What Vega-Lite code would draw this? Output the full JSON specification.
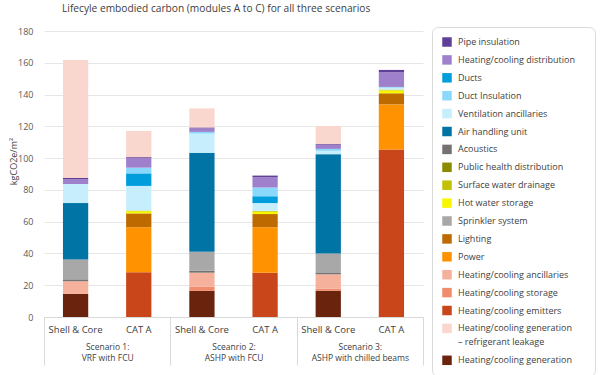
{
  "$schema": "https://vega.github.io/schema/vega-lite/v6.json",
  "width": 379,
  "height": 286,
  "autosize": "none",
  "padding": {"left": 44, "top": 31, "right": 177, "bottom": 58},
  "background": "white",
  "title": {"text": "Lifecyle embodied carbon (modules A to C) for all three scenarios", "anchor": "start", "frame": "group", "dx": 18, "fontSize": 10.2, "font": "Open Sans", "fontWeight": "normal", "color": "#404040", "offset": 12},
  "config": {"font": "Open Sans", "view": {"stroke": null}},
  "data": {"values": [
    {"scenario": "Scenario 1: VRF with FCU", "phase": "Shell & Core", "component": "Heating/cooling generation", "value": 14.5},
    {"scenario": "Scenario 1: VRF with FCU", "phase": "Shell & Core", "component": "Heating/cooling ancillaries", "value": 8},
    {"scenario": "Scenario 1: VRF with FCU", "phase": "Shell & Core", "component": "Acoustics", "value": 1.2},
    {"scenario": "Scenario 1: VRF with FCU", "phase": "Shell & Core", "component": "Sprinkler system", "value": 12.5},
    {"scenario": "Scenario 1: VRF with FCU", "phase": "Shell & Core", "component": "Air handling unit", "value": 35.5},
    {"scenario": "Scenario 1: VRF with FCU", "phase": "Shell & Core", "component": "Ventilation ancillaries", "value": 12},
    {"scenario": "Scenario 1: VRF with FCU", "phase": "Shell & Core", "component": "Heating/cooling distribution", "value": 3},
    {"scenario": "Scenario 1: VRF with FCU", "phase": "Shell & Core", "component": "Pipe insulation", "value": 0.8},
    {"scenario": "Scenario 1: VRF with FCU", "phase": "Shell & Core", "component": "Heating/cooling generation – refrigerant leakage", "value": 74.2},
    {"scenario": "Scenario 1: VRF with FCU", "phase": "CAT A", "component": "Heating/cooling emitters", "value": 28.1},
    {"scenario": "Scenario 1: VRF with FCU", "phase": "CAT A", "component": "Power", "value": 28.4},
    {"scenario": "Scenario 1: VRF with FCU", "phase": "CAT A", "component": "Lighting", "value": 8.7},
    {"scenario": "Scenario 1: VRF with FCU", "phase": "CAT A", "component": "Hot water storage", "value": 1.4},
    {"scenario": "Scenario 1: VRF with FCU", "phase": "CAT A", "component": "Surface water drainage", "value": 0.4},
    {"scenario": "Scenario 1: VRF with FCU", "phase": "CAT A", "component": "Ventilation ancillaries", "value": 15.5},
    {"scenario": "Scenario 1: VRF with FCU", "phase": "CAT A", "component": "Ducts", "value": 7.9},
    {"scenario": "Scenario 1: VRF with FCU", "phase": "CAT A", "component": "Duct Insulation", "value": 3.6},
    {"scenario": "Scenario 1: VRF with FCU", "phase": "CAT A", "component": "Heating/cooling distribution", "value": 6},
    {"scenario": "Scenario 1: VRF with FCU", "phase": "CAT A", "component": "Pipe insulation", "value": 0.6},
    {"scenario": "Scenario 1: VRF with FCU", "phase": "CAT A", "component": "Heating/cooling generation – refrigerant leakage", "value": 16.5},
    {"scenario": "Sceanrio 2: ASHP with FCU", "phase": "Shell & Core", "component": "Heating/cooling generation", "value": 16.5},
    {"scenario": "Sceanrio 2: ASHP with FCU", "phase": "Shell & Core", "component": "Heating/cooling storage", "value": 2.5},
    {"scenario": "Sceanrio 2: ASHP with FCU", "phase": "Shell & Core", "component": "Heating/cooling ancillaries", "value": 8.9},
    {"scenario": "Sceanrio 2: ASHP with FCU", "phase": "Shell & Core", "component": "Acoustics", "value": 1.2},
    {"scenario": "Sceanrio 2: ASHP with FCU", "phase": "Shell & Core", "component": "Sprinkler system", "value": 11.9},
    {"scenario": "Sceanrio 2: ASHP with FCU", "phase": "Shell & Core", "component": "Air handling unit", "value": 62.3},
    {"scenario": "Sceanrio 2: ASHP with FCU", "phase": "Shell & Core", "component": "Ventilation ancillaries", "value": 12.1},
    {"scenario": "Sceanrio 2: ASHP with FCU", "phase": "Shell & Core", "component": "Duct Insulation", "value": 1.1},
    {"scenario": "Sceanrio 2: ASHP with FCU", "phase": "Shell & Core", "component": "Heating/cooling distribution", "value": 2.2},
    {"scenario": "Sceanrio 2: ASHP with FCU", "phase": "Shell & Core", "component": "Pipe insulation", "value": 0.6},
    {"scenario": "Sceanrio 2: ASHP with FCU", "phase": "Shell & Core", "component": "Heating/cooling generation – refrigerant leakage", "value": 12},
    {"scenario": "Sceanrio 2: ASHP with FCU", "phase": "CAT A", "component": "Heating/cooling emitters", "value": 27.9},
    {"scenario": "Sceanrio 2: ASHP with FCU", "phase": "CAT A", "component": "Power", "value": 28.6},
    {"scenario": "Sceanrio 2: ASHP with FCU", "phase": "CAT A", "component": "Lighting", "value": 8.3},
    {"scenario": "Sceanrio 2: ASHP with FCU", "phase": "CAT A", "component": "Hot water storage", "value": 1.5},
    {"scenario": "Sceanrio 2: ASHP with FCU", "phase": "CAT A", "component": "Surface water drainage", "value": 0.5},
    {"scenario": "Sceanrio 2: ASHP with FCU", "phase": "CAT A", "component": "Ventilation ancillaries", "value": 4.9},
    {"scenario": "Sceanrio 2: ASHP with FCU", "phase": "CAT A", "component": "Ducts", "value": 4.3},
    {"scenario": "Sceanrio 2: ASHP with FCU", "phase": "CAT A", "component": "Duct Insulation", "value": 5.5},
    {"scenario": "Sceanrio 2: ASHP with FCU", "phase": "CAT A", "component": "Heating/cooling distribution", "value": 6.4},
    {"scenario": "Sceanrio 2: ASHP with FCU", "phase": "CAT A", "component": "Pipe insulation", "value": 1.1},
    {"scenario": "Scenario 3: ASHP with chilled beams", "phase": "Shell & Core", "component": "Heating/cooling generation", "value": 16.5},
    {"scenario": "Scenario 3: ASHP with chilled beams", "phase": "Shell & Core", "component": "Heating/cooling storage", "value": 1.4},
    {"scenario": "Scenario 3: ASHP with chilled beams", "phase": "Shell & Core", "component": "Heating/cooling ancillaries", "value": 9},
    {"scenario": "Scenario 3: ASHP with chilled beams", "phase": "Shell & Core", "component": "Acoustics", "value": 0.8},
    {"scenario": "Scenario 3: ASHP with chilled beams", "phase": "Shell & Core", "component": "Sprinkler system", "value": 12.3},
    {"scenario": "Scenario 3: ASHP with chilled beams", "phase": "Shell & Core", "component": "Air handling unit", "value": 62.5},
    {"scenario": "Scenario 3: ASHP with chilled beams", "phase": "Shell & Core", "component": "Ventilation ancillaries", "value": 2.1},
    {"scenario": "Scenario 3: ASHP with chilled beams", "phase": "Shell & Core", "component": "Duct Insulation", "value": 1.2},
    {"scenario": "Scenario 3: ASHP with chilled beams", "phase": "Shell & Core", "component": "Heating/cooling distribution", "value": 2.5},
    {"scenario": "Scenario 3: ASHP with chilled beams", "phase": "Shell & Core", "component": "Pipe insulation", "value": 0.5},
    {"scenario": "Scenario 3: ASHP with chilled beams", "phase": "Shell & Core", "component": "Heating/cooling generation – refrigerant leakage", "value": 11.4},
    {"scenario": "Scenario 3: ASHP with chilled beams", "phase": "CAT A", "component": "Heating/cooling emitters", "value": 105.4},
    {"scenario": "Scenario 3: ASHP with chilled beams", "phase": "CAT A", "component": "Power", "value": 28.4},
    {"scenario": "Scenario 3: ASHP with chilled beams", "phase": "CAT A", "component": "Lighting", "value": 7},
    {"scenario": "Scenario 3: ASHP with chilled beams", "phase": "CAT A", "component": "Hot water storage", "value": 1.8},
    {"scenario": "Scenario 3: ASHP with chilled beams", "phase": "CAT A", "component": "Surface water drainage", "value": 0.5},
    {"scenario": "Scenario 3: ASHP with chilled beams", "phase": "CAT A", "component": "Ventilation ancillaries", "value": 1.2},
    {"scenario": "Scenario 3: ASHP with chilled beams", "phase": "CAT A", "component": "Duct Insulation", "value": 0.5},
    {"scenario": "Scenario 3: ASHP with chilled beams", "phase": "CAT A", "component": "Heating/cooling distribution", "value": 9.2},
    {"scenario": "Scenario 3: ASHP with chilled beams", "phase": "CAT A", "component": "Pipe insulation", "value": 1.5}
  ]},
  "transform": [
    {"calculate": "datum.scenario + '|' + datum.phase", "as": "bar"},
    {"calculate": "indexof(['Heating/cooling generation','Heating/cooling emitters','Heating/cooling storage','Heating/cooling ancillaries','Power','Lighting','Acoustics','Sprinkler system','Hot water storage','Surface water drainage','Public health distribution','Air handling unit','Ventilation ancillaries','Ducts','Duct Insulation','Heating/cooling distribution','Pipe insulation','Heating/cooling generation – refrigerant leakage'], datum.component)", "as": "stackorder"}
  ],
  "layer": [
    {
      "mark": {"type": "bar"},
      "encoding": {
        "x": {"field": "bar", "type": "nominal", "sort": null,
          "scale": {"paddingInner": 0.6, "paddingOuter": 0.3},
          "axis": {"orient": "bottom", "title": null, "labelExpr": "split(datum.label, '|')[1]", "labelAngle": 0, "ticks": false, "domain": true, "domainColor": "#d9d9d9", "labelFontSize": 9.5, "labelColor": "#404040", "labelPadding": 7, "labelBaseline": "top"}},
        "y": {"field": "value", "type": "quantitative", "stack": "zero",
          "scale": {"domain": [0, 180]},
          "axis": {"values": [0, 20, 40, 60, 80, 100, 120, 140, 160, 180], "grid": true, "gridColor": "#e6e6e6", "domain": false, "ticks": false, "labelPadding": 11, "labelFontSize": 9, "labelColor": "#595959", "title": "kgCO2e/m²", "titleFontSize": 9, "titleFontWeight": "normal", "titleColor": "#404040", "titleX": -26, "titleY": 130}},
        "color": {"field": "component", "type": "nominal",
          "scale": {
            "domain": ["Pipe insulation", "Heating/cooling distribution", "Ducts", "Duct Insulation", "Ventilation ancillaries", "Air handling unit", "Acoustics", "Public health distribution", "Surface water drainage", "Hot water storage", "Sprinkler system", "Lighting", "Power", "Heating/cooling ancillaries", "Heating/cooling storage", "Heating/cooling emitters", "Heating/cooling generation – refrigerant leakage", "Heating/cooling generation"],
            "range": ["#5f3f97", "#9f80cc", "#009ddd", "#8ad8fb", "#c6eefc", "#0074a5", "#767171", "#8b8b00", "#c1c100", "#f7f700", "#a8a8a8", "#bd6a00", "#ff9200", "#f5b19b", "#f08b6b", "#c9461a", "#fad7ce", "#6a230d"]
          },
          "legend": {"orient": "none", "legendX": 388, "legendY": -4, "title": "   ", "titleOrient": "right", "titleFontSize": 6, "titlePadding": 8, "symbolType": "square", "symbolSize": 90, "symbolStrokeWidth": 0, "labelFontSize": 9, "labelColor": "#404040", "labelFont": "Open Sans", "rowPadding": 7.9, "padding": 10, "strokeColor": "#d9d9d9", "cornerRadius": 6, "fillColor": "white", "labelLimit": 250, "labelOffset": 6,
            "labelExpr": "datum.label == 'Heating/cooling generation – refrigerant leakage' ? ['Heating/cooling   generation', '– refrigerant leakage'] : datum.label",
            "encode": {"labels": {"update": {"lineHeight": {"value": 14}}}}}
        },
        "order": {"field": "stackorder", "type": "quantitative"}
      }
    },
    {
      "mark": {"type": "bar", "opacity": 0},
      "encoding": {
        "x": {"field": "scenario", "type": "nominal", "sort": null,
          "scale": {"type": "band", "paddingInner": 0, "paddingOuter": 0},
          "axis": {"orient": "bottom", "title": null, "labelExpr": "datum.label ? [split(datum.label, ': ')[0] + ':', split(datum.label, ': ')[1]] : ''", "labelAngle": 0, "domain": false, "ticks": true, "tickBand": "extent", "tickExtra": true, "tickSize": 48, "tickWidth": 1, "tickOpacity": 1, "tickColor": "#d9d9d9", "labelPadding": -23, "labelBaseline": "top", "labelFontSize": 8.5, "labelColor": "#404040", "labelLineHeight": 11.5, "grid": false}}
      }
    }
  ],
  "resolve": {"scale": {"x": "independent"}, "axis": {"x": "independent"}}
}
